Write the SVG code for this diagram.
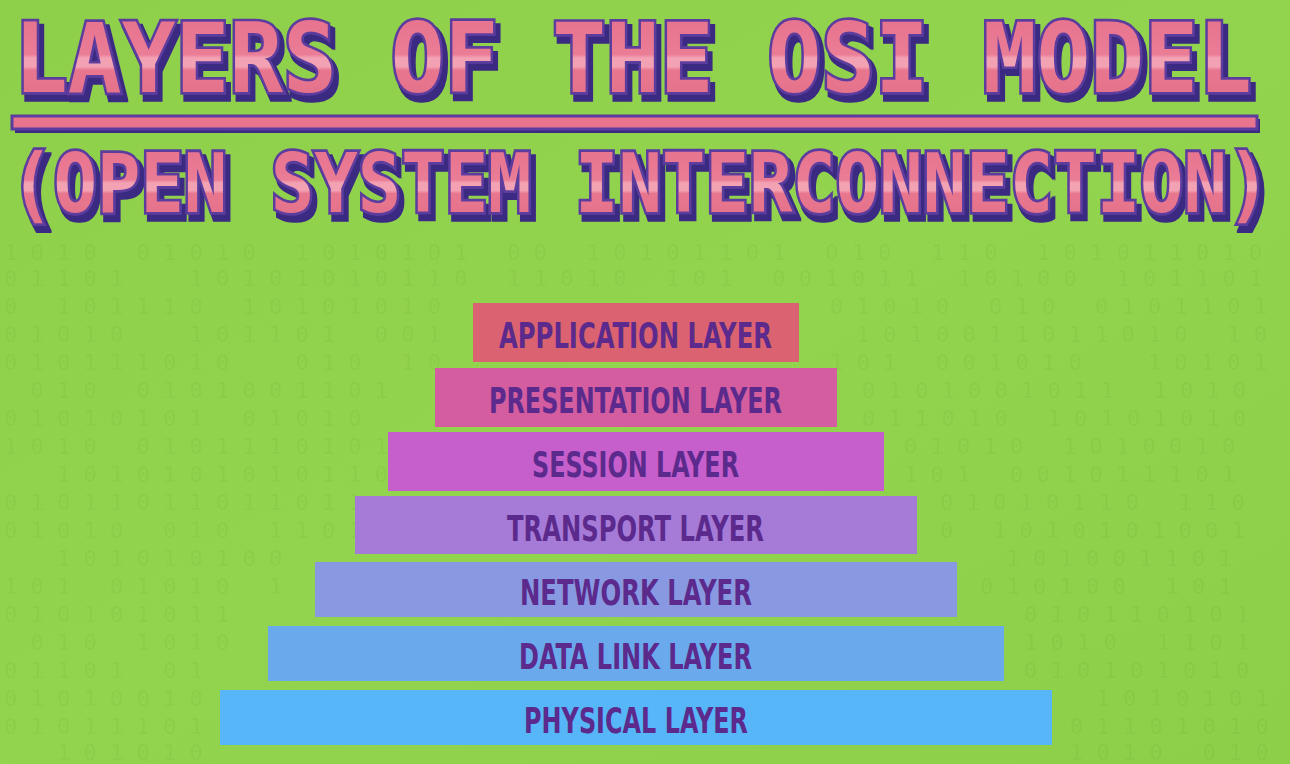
<svg xmlns="http://www.w3.org/2000/svg" width="1290" height="764" viewBox="0 0 1290 764">
  <defs>
    <linearGradient id="bg" x1="0" y1="0" x2="1" y2="1">
      <stop offset="0" stop-color="#8fd04a"/>
      <stop offset="0.5" stop-color="#93d44e"/>
      <stop offset="1" stop-color="#8dcf48"/>
    </linearGradient>
    <linearGradient id="pink1" gradientUnits="userSpaceOnUse" x1="0" y1="20.5" x2="0" y2="87.5">
      <stop offset="0" stop-color="#e8748f"/>
      <stop offset="0.45" stop-color="#ea7c96"/>
      <stop offset="0.5" stop-color="#f3a2b4"/>
      <stop offset="0.62" stop-color="#f3a2b4"/>
      <stop offset="0.67" stop-color="#e9768f"/>
      <stop offset="1" stop-color="#e5728b"/>
    </linearGradient>
    <linearGradient id="pink2" gradientUnits="userSpaceOnUse" x1="0" y1="133.8" x2="0" y2="188.4">
      <stop offset="0" stop-color="#e8748f"/>
      <stop offset="0.45" stop-color="#ea7c96"/>
      <stop offset="0.5" stop-color="#f3a2b4"/>
      <stop offset="0.62" stop-color="#f3a2b4"/>
      <stop offset="0.67" stop-color="#e9768f"/>
      <stop offset="1" stop-color="#e5728b"/>
    </linearGradient>
    <filter id="shadow3d" x="-5%" y="-20%" width="110%" height="150%">
      <feMorphology in="SourceAlpha" operator="dilate" radius="1" result="thick"/>
      <feOffset in="thick" dx="4" dy="5.5" result="off"/>
      <feFlood flood-color="#3b2a82"/>
      <feComposite in2="off" operator="in" result="sh"/>
      <feMerge>
        <feMergeNode in="sh"/>
        <feMergeNode in="SourceGraphic"/>
      </feMerge>
    </filter>
    <style>
      .bin { font-family: "DejaVu Sans Mono", monospace; font-size: 22px; fill: #5a9a2a; opacity: 0.11; white-space: pre; }
      .tmain { font-family: "DejaVu Sans Mono", monospace; font-weight: bold; stroke: #5c3c9e; stroke-width: 5; stroke-linejoin: miter; paint-order: stroke; filter: url(#shadow3d); }
      .bar { stroke: none; }
      .lbl { font-family: "Liberation Sans Narrow", "DejaVu Sans Condensed", "Liberation Sans", sans-serif; font-weight: bold; font-size: 35px; fill: #5b2a8c; }
    </style>
  </defs>

  <rect x="0" y="0" width="1290" height="764" fill="url(#bg)"/>

  <!-- faint binary background texture -->
  <g id="binary" xml:space="preserve">
    <text class="bin" x="4" y="260">1 0 1 0   0 1 0 1 0   1 0 1 0 1 0 1   0 0   1 0 1 0 1 1 0 1   0 1 0   1 1 0   1 0 1 0 1 1 0 1 0</text>
    <text class="bin" x="4" y="286">0 1 1 0 1     1 0 1 0 1 0 1 0 1 1 0   1 1 0 1 0   1 0 1   0 0 1 0 1 1   1 0 1 0 0   1 0 1 1 0 1</text>
    <text class="bin" x="4" y="314">0   1 0 1 1 1 0   1 0 1 0 1 0 1 0</text>
    <text class="bin" x="830" y="314">0 1 0 1 0   0 1 0   0 1 0 1 1 0 1</text>
    <text class="bin" x="4" y="342">0 1 0 1 0     1 0 1 1 0 1   0 0 1</text>
    <text class="bin" x="830" y="342">  1 0 1 0 0 1 1 0 1 1 0 1 0   1 0</text>
    <text class="bin" x="4" y="370">0 1 0 1 1 1 0 1 0     0 1 0   1 0</text>
    <text class="bin" x="830" y="370">1 0 1   0 0 1 0 1 0     1 0 1 0 1</text>
    <text class="bin" x="4" y="398">  0 1 0   0 1 0 1 0 0 1 1 0 1 </text>
    <text class="bin" x="862" y="398">0 1 0 1 0 0 1 0 1 1   1 0 1 0 </text>
    <text class="bin" x="4" y="426">0 1 0 1 0 1 0 1   0 1 0 1 0   </text>
    <text class="bin" x="862" y="426">0 1 1 0 1 0   1 0 1 0 1 0 1 0 </text>
    <text class="bin" x="4" y="454">1 0 1 0   0 1 0 1 1 1 0 1 0 1 0</text>
    <text class="bin" x="904" y="454">0 1 0 1 0   1 0 1 0 0 1 0</text>
    <text class="bin" x="4" y="482">    1 0 1 0 1 0 1 0 1 0 1 1 0</text>
    <text class="bin" x="904" y="482">1 0 1   0 0 1 0 1 1 1 0 1</text>
    <text class="bin" x="4" y="510">0 1 0 1 1 0 1 1 0 1 1 0 1 1</text>
    <text class="bin" x="940" y="510">0 1 0 1 0 1 1 0   1 1 0</text>
    <text class="bin" x="4" y="538">0 1 0 1 0   0 1 0   1 1 0 1</text>
    <text class="bin" x="940" y="538">0   1 0 1 0 1 0 1 0 0 1</text>
    <text class="bin" x="4" y="566">    1 0 1 0 1 0 1 0 0</text>
    <text class="bin" x="980" y="566">  1 0 1 0 0 1 1 0 1</text>
    <text class="bin" x="4" y="594">1 0 1   0 1 0 1 0   1</text>
    <text class="bin" x="980" y="594">0 1 0 1 0 0   1 0 1</text>
    <text class="bin" x="4" y="622">0 1 0 1 0 1 0 1 1</text>
    <text class="bin" x="1024" y="622">0 1 0 1 1 0 1 0 1</text>
    <text class="bin" x="4" y="650">  0 1 0   1 0 1 0</text>
    <text class="bin" x="1024" y="650">1 0 1 0   1 1 0 1</text>
    <text class="bin" x="4" y="678">0 1 1 0 1   0 1</text>
    <text class="bin" x="1024" y="678">0 1 0 1 0 1 0 1 0</text>
    <text class="bin" x="4" y="706">0 1 0 1 0 0 1 0</text>
    <text class="bin" x="1070" y="706">  1 0 1 0 1 0 1</text>
    <text class="bin" x="4" y="734">0 1 0 1 1 1 0 1</text>
    <text class="bin" x="1070" y="734">0 1 1 0 1 0 1 0</text>
    <text class="bin" x="4" y="760">    1 0 1 0 1 0</text>
    <text class="bin" x="1070" y="760">1 0 1 0   0 1 0</text>
  </g>

  <!-- Title -->
  <g id="title">
    <text class="tmain" x="14" y="85.7" font-size="89.4" fill="url(#pink1)" transform="scale(1,1.0738)">LAYERS OF THE OSI MODEL</text>
  </g>

  <g id="divider">
    <rect x="15" y="119" width="1245" height="14" fill="#3b2a82"/>
    <rect x="12" y="116" width="1245" height="13" fill="#e8748f" stroke="#5c3c9e" stroke-width="3"/>
  </g>

  <g id="subtitle">
    <text class="tmain" x="10" y="186.7" font-size="72.2" fill="url(#pink2)" transform="scale(1,1.1357)">(OPEN SYSTEM INTERCONNECTION)</text>
  </g>

  <!-- Layers -->
  <g id="application-layer">
    <rect class="bar" x="473" y="303" width="326" height="59" fill="#db6270"/>
    <text class="lbl" x="499" y="348" textLength="273" lengthAdjust="spacingAndGlyphs">APPLICATION LAYER</text>
  </g>
  <g id="presentation-layer">
    <rect class="bar" x="435" y="368" width="402" height="59" fill="#d35d9f"/>
    <text class="lbl" x="489" y="413" textLength="293" lengthAdjust="spacingAndGlyphs">PRESENTATION LAYER</text>
  </g>
  <g id="session-layer">
    <rect class="bar" x="388" y="432" width="496" height="59" fill="#c65fcb"/>
    <text class="lbl" x="532" y="477" textLength="207" lengthAdjust="spacingAndGlyphs">SESSION LAYER</text>
  </g>
  <g id="transport-layer">
    <rect class="bar" x="355" y="496" width="562" height="58" fill="#a67bd8"/>
    <text class="lbl" x="507" y="541" textLength="257" lengthAdjust="spacingAndGlyphs">TRANSPORT LAYER</text>
  </g>
  <g id="network-layer">
    <rect class="bar" x="315" y="562" width="642" height="55" fill="#8899e2"/>
    <text class="lbl" x="520" y="605" textLength="232" lengthAdjust="spacingAndGlyphs">NETWORK LAYER</text>
  </g>
  <g id="data-link-layer">
    <rect class="bar" x="268" y="626" width="736" height="55" fill="#6aa9ec"/>
    <text class="lbl" x="519" y="669" textLength="233" lengthAdjust="spacingAndGlyphs">DATA LINK LAYER</text>
  </g>
  <g id="physical-layer">
    <rect class="bar" x="220" y="690" width="832" height="55" fill="#57b6f8"/>
    <text class="lbl" x="524" y="733" textLength="224" lengthAdjust="spacingAndGlyphs">PHYSICAL LAYER</text>
  </g>

  <g id="connectors"/>
</svg>
